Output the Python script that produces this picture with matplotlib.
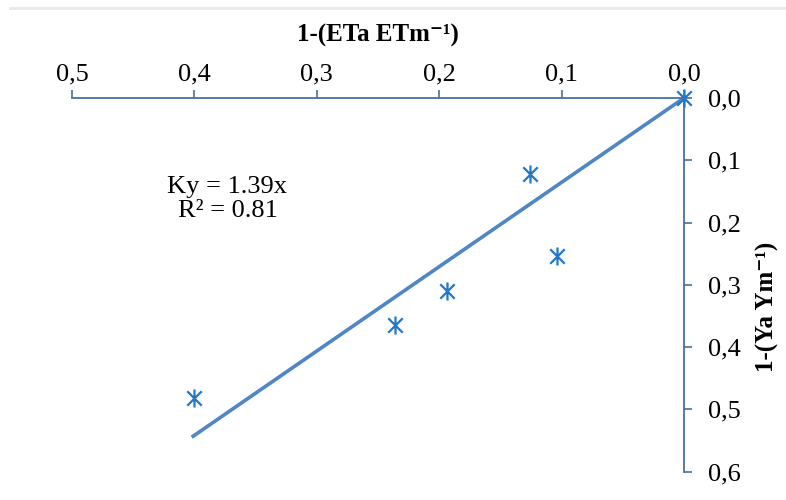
import matplotlib
matplotlib.use("Agg")
import matplotlib.pyplot as plt
from matplotlib.path import Path
from matplotlib.lines import Line2D

plt.rcParams["font.family"] = ["Liberation Serif", "DejaVu Serif"]

# relative evapotranspiration deficit vs relative yield deficit
et_deficit = [0.0, 0.126, 0.104, 0.194, 0.236, 0.400]
yield_deficit = [0.0, 0.122, 0.254, 0.310, 0.365, 0.482]

# fitted line through the origin
trend_x = [0.0, 0.401]
trend_y = [0.0, 0.543]

x_ticks = [0.5, 0.4, 0.3, 0.2, 0.1, 0.0]
y_ticks = [0.0, 0.1, 0.2, 0.3, 0.4, 0.5, 0.6]

axis_color = "#4a6fa0"
line_color = "#4f86c6"
marker_color = "#1f78c8"

# Excel style asterisk: vertical bar plus an X
star = Path(
    [(0, -1), (0, 1), (-0.8, -0.8), (0.8, 0.8), (-0.8, 0.8), (0.8, -0.8)],
    [Path.MOVETO, Path.LINETO, Path.MOVETO, Path.LINETO, Path.MOVETO, Path.LINETO],
)

fig = plt.figure(figsize=(7.86, 5.0), dpi=100)
ax = fig.add_axes([0.0916, 0.0566, 0.7786, 0.7474])

ax.plot(trend_x, trend_y, color=line_color, lw=2.6, zorder=2)
ax.plot(et_deficit, yield_deficit, ls="none", marker=star, ms=13,
        mec=marker_color, mfc="none", mew=1.6, zorder=3, clip_on=False)

ax.set_xlim(0.5, 0.0)
ax.set_ylim(0.6, 0.0)
ax.set_xticks(x_ticks)
ax.set_yticks(y_ticks)
ax.set_xticklabels([f"{v:.1f}".replace(".", ",") for v in x_ticks])
ax.set_yticklabels([f"{v:.1f}".replace(".", ",") for v in y_ticks])

ax.xaxis.tick_top()
ax.yaxis.tick_right()
for side in ["bottom", "left"]:
    ax.spines[side].set_visible(False)
for side in ["top", "right"]:
    ax.spines[side].set_color(axis_color)
    ax.spines[side].set_linewidth(1.3)

ax.tick_params(axis="x", direction="out", length=6, width=1.2, color=axis_color,
               labelsize=19, pad=3)
ax.tick_params(axis="y", direction="out", length=6, width=1.2, color=axis_color,
               labelsize=19, pad=11)

ax.set_xlabel("1-(ETa ETm⁻¹)", fontsize=18, fontweight="bold")
ax.xaxis.set_label_position("top")
ax.xaxis.set_label_coords(0.5, 1.168)
ax.xaxis.label.set_va("center")

ax.set_ylabel("1-(Ya Ym⁻¹)", fontsize=18, fontweight="bold")
ax.yaxis.set_label_position("right")
ax.yaxis.set_label_coords(1.137, 0.44)
ax.yaxis.label.set_va("center")

ax.text(0.373, 0.162, "Ky = 1.39x\nR² = 0.81", fontsize=19, ha="center",
        va="center", linespacing=1.1)

# faint frame line at the very top of the image
fig.add_artist(Line2D([0.013, 1.0], [0.984, 0.984], color="#e8e8e8", lw=2))

fig.savefig("out.png", dpi=100)
